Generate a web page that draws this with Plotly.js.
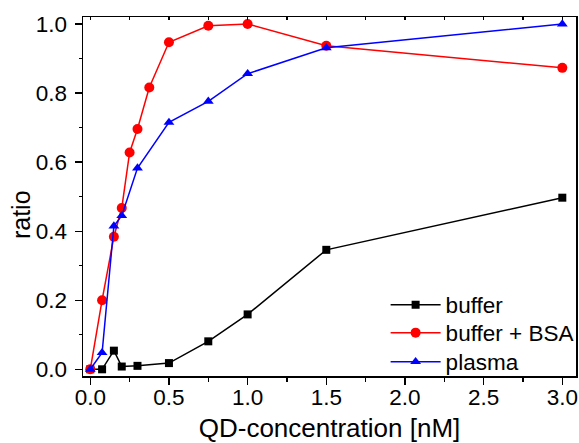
<!DOCTYPE html>
<html>
<head>
<meta charset="utf-8">
<script src="https://cdn.plot.ly/plotly-3.0.1.min.js"></script>
<style>html,body{margin:0;padding:0;background:#fff;}#chart{width:579px;height:443px;}</style>
</head>
<body>
<div id="chart"></div>
<script>
const bufferX = [0, 0.075, 0.15, 0.2, 0.3, 0.5, 0.75, 1.0, 1.5, 3.0];
const bufferY = [0.0, 0.0, 0.054, 0.008, 0.01, 0.018, 0.081, 0.159, 0.346, 0.497];
const bsaX = [0, 0.075, 0.15, 0.2, 0.25, 0.3, 0.375, 0.5, 0.75, 1.0, 1.5, 3.0];
const bsaY = [0.0, 0.2, 0.384, 0.467, 0.628, 0.696, 0.816, 0.947, 0.995, 1.0, 0.937, 0.873];
const plasmaX = [0, 0.075, 0.15, 0.2, 0.3, 0.5, 0.75, 1.0, 1.5, 3.0];
const plasmaY = [0.0, 0.048, 0.415, 0.445, 0.583, 0.715, 0.776, 0.856, 0.931, 1.0];
const seriesNames = ["buffer", "buffer + BSA", "plasma"];
const xTickVals = [0, 0.5, 1.0, 1.5, 2.0, 2.5, 3.0];
const xTickText = ["0.0", "0.5", "1.0", "1.5", "2.0", "2.5", "3.0"];
const yTickVals = [0, 0.2, 0.4, 0.6, 0.8, 1.0];
const yTickText = ["0.0", "0.2", "0.4", "0.6", "0.8", "1.0"];
const xTitle = "QD-concentration [nM]";
const yTitle = "ratio";

const FONT = "Liberation Sans, Arial, sans-serif";

const traces = [
  {x: bufferX, y: bufferY, name: seriesNames[0], mode: "lines+markers", legend: "legend",
   line: {color: "#000000", width: 1.5}, marker: {symbol: "square", size: 8, color: "#000000"}},
  {x: bsaX, y: bsaY, name: seriesNames[1], mode: "lines+markers", legend: "legend2",
   line: {color: "#ff0000", width: 1.5}, marker: {symbol: "circle", size: 10, color: "#ff0000"}},
  {x: plasmaX, y: plasmaY, name: seriesNames[2], mode: "lines+markers", legend: "legend3",
   line: {color: "#0000ff", width: 1.5}, marker: {symbol: "triangle-up", size: 9.5, color: "#0000ff"}},
  {x: [0], y: [0], xaxis: "x2", yaxis: "y", mode: "markers", marker: {opacity: 0}, showlegend: false, hoverinfo: "skip"}
];

const legendBase = {
  xref: "container", yref: "container",
  x: 0.666, xanchor: "left", yanchor: "middle",
  bgcolor: "rgba(0,0,0,0)", borderwidth: 0,
  font: {size: 22.5}, itemwidth: 50
};

const layout = {
  width: 579, height: 443,
  margin: {l: 83, r: 2.5, t: 17, b: 67, autoexpand: false},
  paper_bgcolor: "#fff", plot_bgcolor: "#fff",
  font: {family: FONT, size: 22.5, color: "#000"},
  showlegend: true,
  xaxis: {
    range: [-0.0463, 3.087], tickvals: xTickVals, ticktext: xTickText,
    ticks: "outside", ticklen: 7, tickwidth: 1.3, tickcolor: "#000",
    minor: {dtick: 0.25, ticks: "outside", ticklen: 4, tickwidth: 1.3, tickcolor: "#000", showgrid: false},
    showline: true, linecolor: "#000", linewidth: 1.5, mirror: true,
    showgrid: false, zeroline: false, ticklabelstandoff: -7,
    tickfont: {size: 22.5}, title: {text: xTitle, font: {size: 26}, standoff: 10}
  },
  xaxis2: {
    overlaying: "x", side: "top", matches: "x", range: [-0.0463, 3.087],
    dtick: 0.25, tick0: 0, ticks: "inside", ticklen: 3, tickwidth: 1.3, tickcolor: "#000",
    showticklabels: false, showgrid: false, zeroline: false, showline: false
  },
  yaxis: {
    range: [-0.0194, 1.0203], tickvals: yTickVals, ticktext: yTickText,
    ticks: "outside", ticklen: 7, tickwidth: 1.3, tickcolor: "#000",
    minor: {dtick: 0.1, ticks: "outside", ticklen: 3, tickwidth: 1.3, tickcolor: "#000", showgrid: false},
    showline: true, linecolor: "#000", linewidth: 1.5, mirror: true,
    showgrid: false, zeroline: false, ticklabelstandoff: 3,
    tickfont: {size: 22.5}
  },
  annotations: [{
    text: yTitle, xref: "paper", yref: "paper", x: -0.1256, y: 0.4485,
    xanchor: "center", yanchor: "middle", textangle: -90, showarrow: false,
    font: {size: 25}
  }],
  legend: Object.assign({}, legendBase, {y: 0.3115}),
  legend2: Object.assign({}, legendBase, {y: 0.2483}),
  legend3: Object.assign({}, legendBase, {y: 0.1828})
};

Plotly.newPlot("chart", traces, layout, {displayModeBar: false, staticPlot: true});
</script>
</body>
</html>
